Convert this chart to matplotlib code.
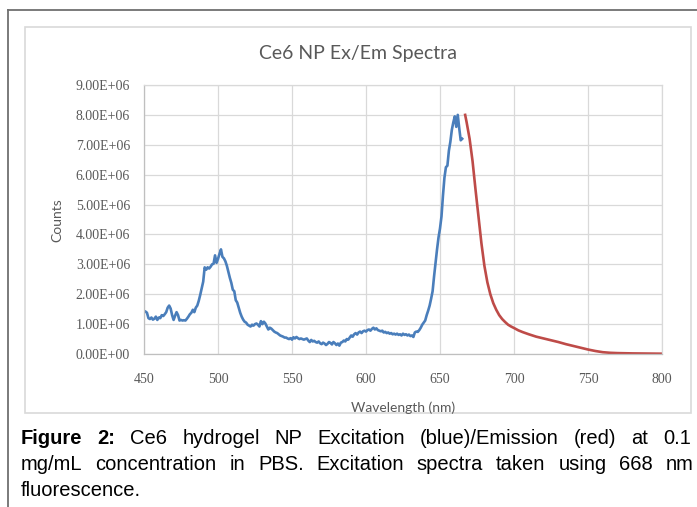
import matplotlib
matplotlib.use("Agg")
import matplotlib.pyplot as plt
import numpy as np
from matplotlib.lines import Line2D
from matplotlib.patches import Rectangle
from matplotlib.ticker import FuncFormatter

W, H = 697, 507

# excitation spectrum (blue), 1 nm steps from 450 nm, counts in 1e6
ex_start = 450
ex_counts = [
    1.44, 1.42, 1.38, 1.20, 1.17, 1.22, 1.15, 1.18, 1.25, 1.14,
    1.22, 1.20, 1.30, 1.27, 1.33, 1.40, 1.55, 1.62, 1.52, 1.30,
    1.14, 1.28, 1.40, 1.30, 1.12, 1.14, 1.12, 1.13, 1.12, 1.18,
    1.25, 1.33, 1.38, 1.48, 1.40, 1.55, 1.62, 1.78, 1.98, 2.20,
    2.42, 2.90, 2.82, 2.90, 2.86, 2.92, 3.00, 3.02, 3.30, 3.05,
    3.18, 3.35, 3.50, 3.25, 3.20, 3.10, 2.95, 2.75, 2.55, 2.38,
    2.15, 2.10, 1.80, 1.72, 1.55, 1.38, 1.25, 1.15, 1.08, 1.05,
    0.98, 0.95, 0.92, 0.98, 0.95, 1.00, 1.02, 0.98, 0.92, 1.10,
    1.00, 1.08, 1.02, 0.92, 0.82, 0.88, 0.85, 0.80, 0.75, 0.72,
    0.70, 0.66, 0.62, 0.60, 0.58, 0.55, 0.55, 0.52, 0.50, 0.53,
    0.48, 0.56, 0.52, 0.57, 0.53, 0.50, 0.52, 0.50, 0.48, 0.50,
    0.52, 0.45, 0.40, 0.47, 0.42, 0.44, 0.40, 0.38, 0.42, 0.36,
    0.33, 0.38, 0.35, 0.30, 0.34, 0.40, 0.37, 0.32, 0.40, 0.36,
    0.30, 0.35, 0.28, 0.38, 0.40, 0.45, 0.42, 0.50, 0.48, 0.55,
    0.62, 0.58, 0.66, 0.70, 0.65, 0.72, 0.75, 0.70, 0.76, 0.78,
    0.75, 0.80, 0.82, 0.78, 0.84, 0.88, 0.82, 0.86, 0.80, 0.78,
    0.76, 0.78, 0.72, 0.74, 0.70, 0.72, 0.68, 0.70, 0.66, 0.68,
    0.65, 0.68, 0.64, 0.66, 0.62, 0.68, 0.64, 0.66, 0.62, 0.65,
    0.60, 0.62, 0.57, 0.72, 0.75, 0.74, 0.80, 0.88, 0.98, 1.05,
    1.12, 1.30, 1.45, 1.62, 1.85, 2.10, 2.60, 3.05, 3.50, 3.90,
    4.20, 4.60, 5.30, 5.90, 6.25, 6.30, 6.80, 7.10, 7.50, 7.75,
    7.95, 7.60, 8.00, 7.55, 7.15, 7.20,
]

# emission spectrum (red)
em_wl = [667, 668, 670, 672, 674, 676, 678, 680, 682, 684, 686, 688, 690,
         692, 694, 696, 698, 700, 703, 706, 710, 715, 720, 725, 730, 735,
         740, 745, 750, 755, 760, 765, 770, 780, 790, 800]
em_counts = [8.00, 7.75, 7.20, 6.45, 5.50, 4.60, 3.70, 2.95, 2.40, 2.00,
             1.70, 1.48, 1.30, 1.17, 1.07, 0.98, 0.92, 0.87, 0.79, 0.73,
             0.66, 0.58, 0.52, 0.46, 0.40, 0.33, 0.27, 0.21, 0.15, 0.10,
             0.06, 0.04, 0.03, 0.02, 0.015, 0.01]

x_ticks = [450, 500, 550, 600, 650, 700, 750, 800]
y_ticks = [i * 1e6 for i in range(10)]

title = "Ce6 NP Ex/Em Spectra"
caption_lines = [
    "Figure 2: Ce6 hydrogel NP Excitation (blue)/Emission (red) at 0.1",
    "mg/mL concentration in PBS. Excitation spectra taken using 668 nm",
    "fluorescence.",
]
# pixel x where the last word of each justified line starts
caption_last_word_x = [663, 666, None]


def fx(px):
    return px / W


def fy(py):
    return 1 - py / H


fig = plt.figure(figsize=(W / 100, H / 100), dpi=100)
fig.patch.set_facecolor("white")

# outer page border (top and left) and Excel chart frame
fig.add_artist(Line2D([fx(8), fx(8)], [fy(10), 0], transform=fig.transFigure,
                      color="#707070", lw=1.3))
fig.add_artist(Line2D([fx(8), 1], [fy(10), fy(10)], transform=fig.transFigure,
                      color="#707070", lw=1.3))
fig.add_artist(Rectangle((fx(25), fy(413)), fx(691) - fx(25), fy(27) - fy(413),
                         transform=fig.transFigure, fill=False,
                         edgecolor="#d9d9d9", lw=1.2))

ax = fig.add_axes([fx(144), fy(354), fx(662) - fx(144), fy(85) - fy(354)])

ex_wl = np.arange(ex_start, ex_start + len(ex_counts))
ax.plot(ex_wl, np.array(ex_counts) * 1e6, color="#4a7ebb", lw=1.9,
        solid_joinstyle="round")
ax.plot(em_wl, np.array(em_counts) * 1e6, color="#be4b48", lw=1.9,
        solid_joinstyle="round")

ax.set_xlim(450, 800)
ax.set_ylim(0, 9e6)
ax.set_xticks(x_ticks)
ax.set_yticks(y_ticks)
ax.yaxis.set_major_formatter(FuncFormatter(lambda v, p: f"{v / 1e6:.2f}E+06"
                                           if v else "0.00E+00"))
ax.grid(True, color="#d9d9d9", lw=0.9)
ax.set_axisbelow(True)
for s in ax.spines.values():
    s.set_color("#d9d9d9")
    s.set_linewidth(0.9)
ax.spines["left"].set_color("#bfbfbf")
ax.spines["bottom"].set_color("#bfbfbf")
ax.tick_params(length=0, colors="#595959", labelsize=10)
ax.tick_params(axis="y", pad=10)
ax.tick_params(axis="x", pad=14)
for lab in ax.get_xticklabels() + ax.get_yticklabels():
    lab.set_family("Liberation Serif")

fig.text(fx(358), fy(54), title, ha="center", va="center", family="Lato",
         fontsize=14, color="#595959")
fig.text(fx(403), fy(408), "Wavelength (nm)", ha="center", va="center",
         family="Lato", fontsize=10, color="#595959")
fig.text(fx(57), fy(220), "Counts", ha="center", va="center", rotation=90,
         family="Lato", fontsize=10, color="#595959")

# justified caption, word by word
renderer = fig.canvas.get_renderer()
cap_y = [439, 465, 491]
left = 21
for i, line in enumerate(caption_lines):
    words = line.split(" ")
    items = []
    for j, w in enumerate(words):
        bold = i == 0 and j < 2
        t = fig.text(0, fy(cap_y[i]), w, ha="left", va="center",
                     family="Liberation Sans", fontsize=14.5,
                     weight="bold" if bold else "normal", color="black")
        items.append(t)
    widths = [t.get_window_extent(renderer).width for t in items]
    anchor = caption_last_word_x[i]
    if anchor is not None:
        gap = (anchor - left - sum(widths[:-1])) / (len(items) - 1)
    else:
        gap = 5.6
    x = left
    for t, wd in zip(items, widths):
        t.set_x(fx(x))
        x += wd + gap

fig.savefig("out.png", dpi=100, facecolor="white")
